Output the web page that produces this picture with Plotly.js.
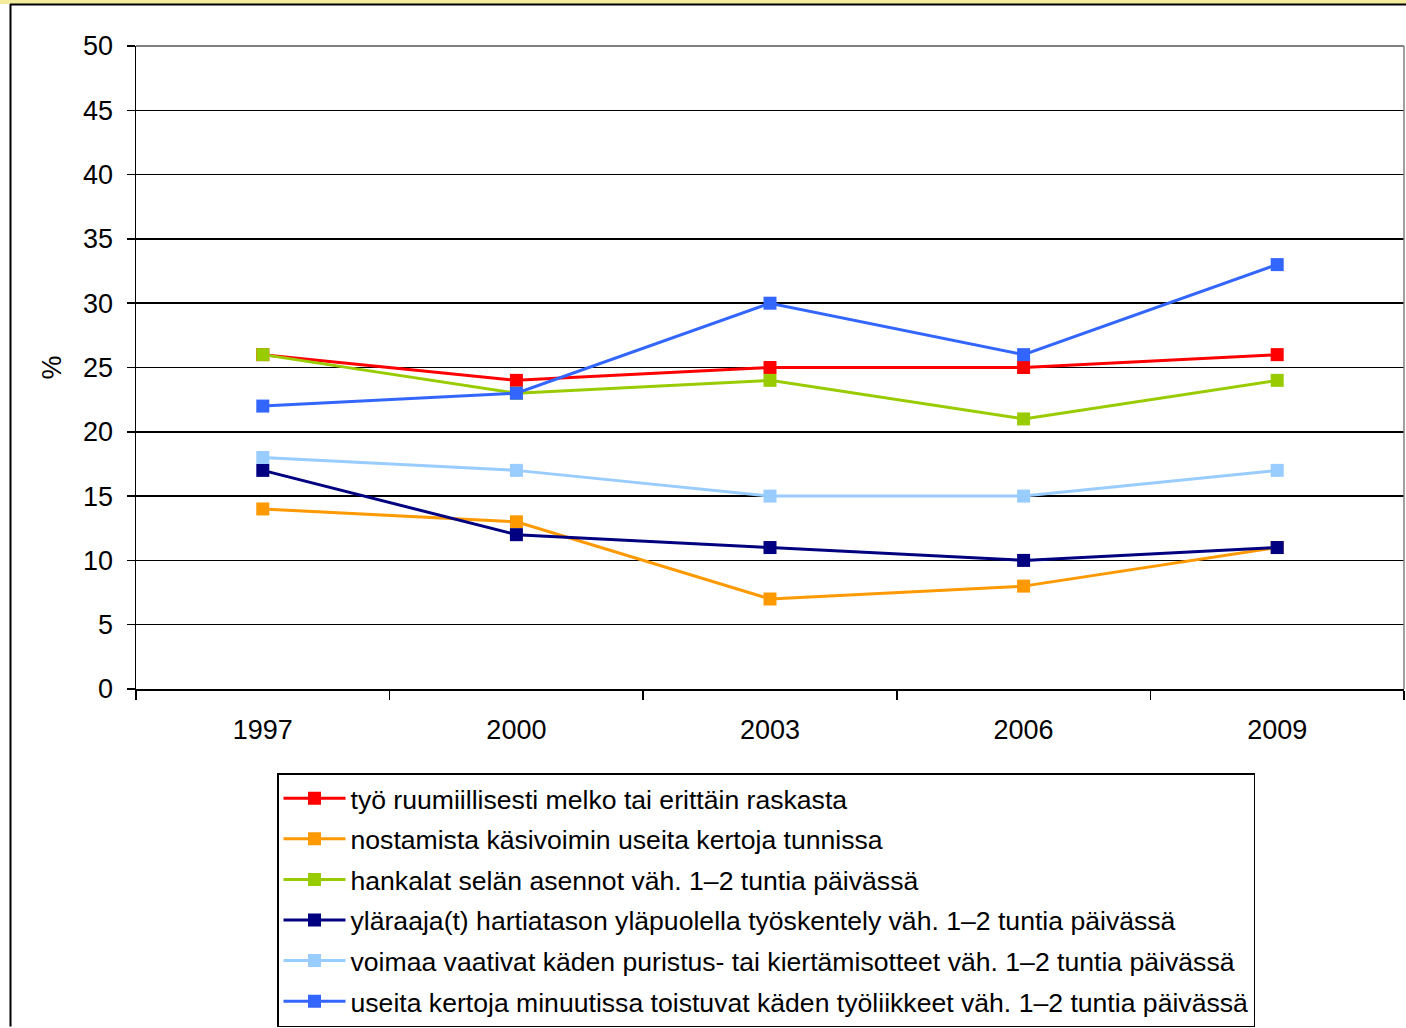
<!DOCTYPE html>
<html>
<head>
<meta charset="utf-8">
<script src="https://cdn.plot.ly/plotly-3.0.1.min.js"></script>
<style>html,body{margin:0;padding:0;background:#fff;}#chart{width:1406px;height:1028px;}</style>
</head>
<body>
<div id="chart"></div>
<script>
const years = ["1997", "2000", "2003", "2006", "2009"];
const seriesNames = [
  "työ ruumiillisesti melko tai erittäin raskasta",
  "nostamista käsivoimin useita kertoja tunnissa",
  "hankalat selän asennot väh. 1–2 tuntia päivässä",
  "yläraaja(t) hartiatason yläpuolella työskentely väh. 1–2 tuntia päivässä",
  "voimaa vaativat käden puristus- tai kiertämisotteet väh. 1–2 tuntia päivässä",
  "useita kertoja minuutissa toistuvat käden työliikkeet väh. 1–2 tuntia päivässä"
];
const raskasta = [26, 24, 25, 25, 26];
const nostamista = [14, 13, 7, 8, 11];
const selan = [26, 23, 24, 21, 24];
const ylaraaja = [17, 12, 11, 10, 11];
const puristus = [18, 17, 15, 15, 17];
const toistuvat = [22, 23, 30, 26, 33];
const colors = ["#ff0000", "#ff9900", "#99cc00", "#000080", "#99ccff", "#3366ff"];
const values = [raskasta, nostamista, selan, ylaraaja, puristus, toistuvat];

const traces = values.map((v, i) => ({
  x: years, y: v, name: seriesNames[i], type: "scatter", mode: "lines+markers",
  legendgroup: "g" + i,
  line: {color: colors[i], width: 3},
  marker: {symbol: "square", size: 13, color: colors[i], line: {width: 0}}
}));

// pixel helpers for decoration shapes
const L = 136, R = 2, T = 46, B = 338, W = 1406, H = 1028;
const pw = W - L - R, ph = H - T - B;
const px = x => (x - L) / pw;
const py = y => (H - B - y) / ph;

const layout = {
  width: W, height: H,
  margin: {l: L, r: R, t: T, b: B, pad: 0},
  paper_bgcolor: "#ffffff", plot_bgcolor: "#ffffff",
  font: {family: "Liberation Sans, Arial, sans-serif", size: 27, color: "#000"},
  showlegend: true,
  xaxis: {
    type: "category", range: [-0.5, 4.5],
    showgrid: false, zeroline: false,
    showline: true, linecolor: "#000", linewidth: 2,
    ticks: "outside", tickson: "boundaries", ticklen: 9, tickwidth: 1.5, tickcolor: "#000",
    tickfont: {size: 27}, ticklabelstandoff: 16
  },
  yaxis: {
    range: [0, 50], dtick: 5, tick0: 0,
    showgrid: true, gridcolor: "#000", gridwidth: 1.5,
    zeroline: false,
    showline: true, linecolor: "#000", linewidth: 1.5,
    ticks: "outside", ticklen: 8, tickwidth: 1.5, tickcolor: "#000",
    tickfont: {size: 27}, ticklabelstandoff: 8,
    title: {text: "%", font: {size: 27}, standoff: 13}
  },
  legend: {
    x: px(277), y: py(773), xanchor: "left", yanchor: "top",
    bordercolor: "#000", borderwidth: 1.5, bgcolor: "#fff",
    font: {size: 26.6}, itemwidth: 62, traceorder: "grouped", tracegroupgap: 3,
    itemclick: false
  },
  shapes: [
    {type: "rect", xref: "paper", yref: "paper", x0: px(0), x1: px(W), y0: py(0), y1: py(4), fillcolor: "#f2ec9c", line: {width: 0}, layer: "below"},
    {type: "line", xref: "paper", yref: "paper", x0: px(10.5), x1: px(10.5), y0: py(4), y1: py(H), line: {color: "#000", width: 2}},
    {type: "line", xref: "paper", yref: "paper", x0: px(10), x1: px(W), y0: py(4.5), y1: py(4.5), line: {color: "#000", width: 2}},
    {type: "line", xref: "paper", yref: "paper", x0: 0, x1: 1, y0: 1, y1: 1, line: {color: "#808080", width: 2}},
    {type: "line", xref: "paper", yref: "paper", x0: 1, x1: 1, y0: 0, y1: 1, line: {color: "#808080", width: 1.5}}
  ]
};

Plotly.newPlot("chart", traces, layout, {displayModeBar: false, staticPlot: true});
</script>
</body>
</html>
